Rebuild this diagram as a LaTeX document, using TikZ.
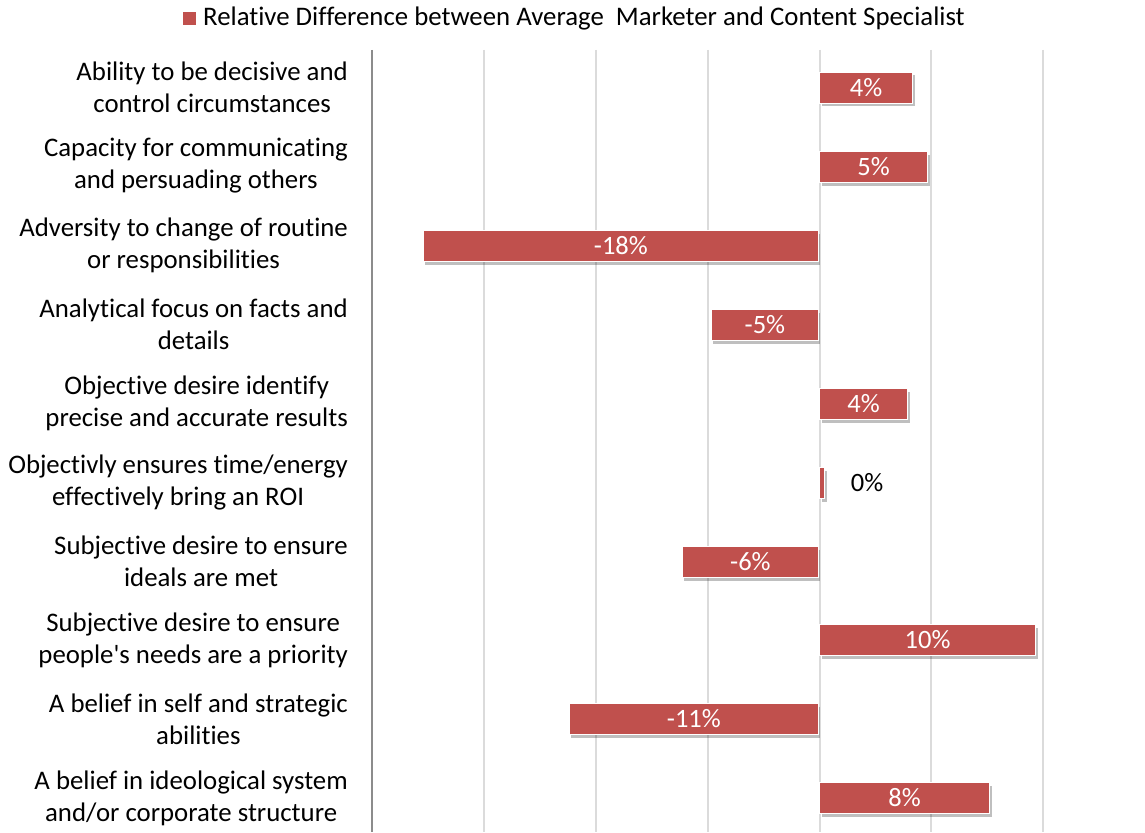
\documentclass[tikz,border=0pt]{standalone}
\usepackage{fontspec}
\setmainfont{Carlito}[Ligatures=NoCommon]
\usetikzlibrary{shadows}
\definecolor{barred}{HTML}{C0504D}
\begin{document}
\begin{tikzpicture}[x=1pt,y=-1pt,
  gridline/.style={draw=black!14, line width=1.3pt},
  axisline/.style={draw=black!45, line width=1.6pt},
  bar/.style={rectangle, fill=barred, draw=white, line width=1.2pt, minimum height=31pt, inner sep=0pt,
    text=white, font=\fontsize{26.5}{30}\selectfont,
    drop shadow={shadow xshift=2pt, shadow yshift=-3pt, fill=black, opacity=0.25}},
  cat/.style={anchor=east, align=center, inner sep=0pt, font=\fontsize{26.8}{32}\selectfont},
  vallabel/.style={font=\fontsize{26.5}{30}\selectfont, inner sep=0pt}]
\useasboundingbox (0,0) rectangle (1145,832);
% grid
\foreach \gx in {484,596,708,820,931,1043} \draw[gridline] (\gx,50) -- (\gx,832);
\draw[axisline] (372,50) -- (372,832);
% legend
\node[fill=barred, minimum size=13pt, inner sep=0pt] (legsq) at (189.5,18.5) {};
\node[anchor=west, inner sep=0pt, font=\fontsize{26.8}{30}\selectfont] (legtxt) at (203,18.5) {Relative Difference between Average\ \ Marketer and Content Specialist};
% category labels
\node[cat] (c1) at (348,87) {Ability to be decisive and\\control circumstances};
\node[cat] (c2) at (348,166) {Capacity for communicating\\and persuading others};
\node[cat] (c3) at (348,245) {Adversity to change of routine\\or responsibilities};
\node[cat] (c4) at (348,324) {Analytical focus on facts and\\details};
\node[cat] (c5) at (348,403) {Objective desire identify\\precise and accurate results};
\node[cat] (c6) at (348,482) {Objectivly ensures time/energy\\effectively bring an ROI};
\node[cat] (c7) at (348,561) {Subjective desire to ensure\\ideals are met};
\node[cat] (c8) at (348,640) {Subjective desire to ensure\\people\textquotesingle s needs are a priority};
\node[cat] (c9) at (348,719) {A belief in self and strategic\\abilities};
\node[cat] (c10) at (348,798) {A belief in ideological system\\and/or corporate structure};
% bars
\node[bar, anchor=west, minimum width=93pt] (b1) at (819,88) {4\%};
\node[bar, anchor=west, minimum width=108pt] (b2) at (819,167) {5\%};
\node[bar, anchor=east, minimum width=395pt] (b3) at (819,246) {-18\%};
\node[bar, anchor=east, minimum width=107pt] (b4) at (819,325) {-5\%};
\node[bar, anchor=west, minimum width=88pt] (b5) at (819,404) {4\%};
\node[bar, anchor=west, minimum width=5pt] (b6) at (819,483) {};
\node[vallabel] (v6) at (867,483) {0\%};
\node[bar, anchor=east, minimum width=136pt] (b7) at (819,562) {-6\%};
\node[bar, anchor=west, minimum width=216pt] (b8) at (819,640) {10\%};
\node[bar, anchor=east, minimum width=249pt] (b9) at (819,719) {-11\%};
\node[bar, anchor=west, minimum width=170pt] (b10) at (819,798) {8\%};
\end{tikzpicture}
\end{document}
